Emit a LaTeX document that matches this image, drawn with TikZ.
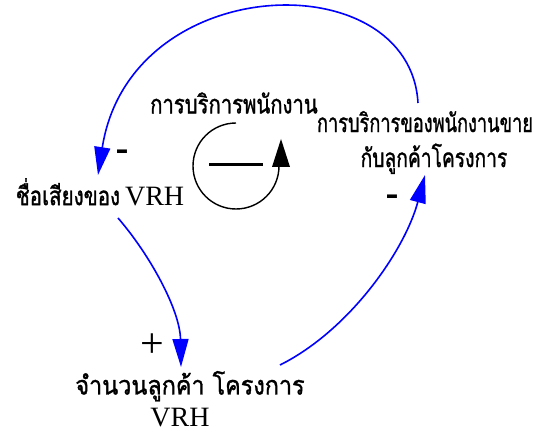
\documentclass[tikz,border=0pt]{standalone}
\usepackage{fontspec}
\usepackage{graphicx}
\setmainfont{Liberation Serif}
\newfontfamily\thai[Script=Thai,FakeBold=1.4]{Loma}
\newfontfamily\signfont{Liberation Sans}
\usetikzlibrary{arrows.meta,calc}
\newcommand{\thtxt}[2]{\scalebox{#1}[1]{\thai #2}}
\newcommand{\latn}[1]{{\fontsize{28}{28}\selectfont #1}}
\begin{document}
\begin{tikzpicture}[x=1pt,y=1pt,
  var/.style={inner sep=0pt, outer sep=0pt, align=center, font=\fontsize{26}{35}\selectfont},
  link/.style={draw=blue, line width=1.6pt, -{Triangle[length=28pt,width=16pt,fill=blue]}},
  signtxt/.style={inner sep=0pt, font=\fontsize{30}{30}\selectfont\signfont\bfseries},
  plustxt/.style={inner sep=0pt, font=\fontsize{42}{42}\selectfont\rmfamily}]
\useasboundingbox (0,0) rectangle (558,432);
\node[var] (svc) at (234,329) {\thtxt{0.78}{การบริการพนักงาน}};
\node[var] (sales) at (425,289.5) {\thtxt{0.70}{การบริการของพนักงานขาย}\\\hspace*{18pt}\thtxt{0.74}{กับลูกค้าโครงการ}};
\node[var] (rep) at (100,240) {\thtxt{0.79}{ชื่อเสียงของ}\hspace{5pt}\latn{VRH}};
\node[var,font=\fontsize{26}{31}\selectfont] (cust) at (190,33) {\thtxt{0.9}{จำนวนลูกค้า โครงการ}\\[1pt]\latn{VRH}\hspace*{20pt}};
% connectors
\draw[link] ([shift={(-7,39.5)}]sales.center) .. controls +(-8,141) and +(32,205) .. ([shift={(-2,17)}]rep.center);
\draw[link] ([shift={(18,-26)}]rep.center) .. controls +(32,-37) and +(-1,57) .. ([shift={(-9,32)}]cust.center);
\draw[link] ([shift={(90,34)}]cust.center) .. controls +(70,35) and +(-20,-75) .. ([shift={(0,-32.5)}]sales.center);
% polarity signs
\node[signtxt] (m1) at (122,277) {\scalebox{1.3}[1]{-}};
\node[plustxt] (p1) at (152,86) {+};
\node[signtxt] (m2) at (392,232) {\scalebox{1.3}[1]{-}};
% loop symbol
\draw[line width=1.4pt] (236,309) arc[start angle=90, end angle=360, radius=43];
\fill (272,265) -- (281,293) -- (290,265) -- cycle;
\draw[line width=3pt] (209,267) -- (263,267);
\end{tikzpicture}
\end{document}
